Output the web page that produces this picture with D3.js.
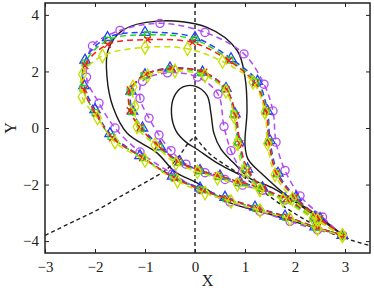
<!DOCTYPE html>
<html>
<head>
<meta charset="utf-8">
<script src="https://cdn.jsdelivr.net/npm/d3@7"></script>
<style>
  body { margin: 0; background: #fff; }
  svg { display: block; }
</style>
</head>
<body>
<svg width="374" height="292"></svg>
<script>
// axis ticks
const xTicks = [-3, -2, -1, 0, 1, 2, 3];
const yTicks = [-4, -2, 0, 2, 4];

// black reference curves (solid)
const outerBlack = [[2.95,-3.78],[2.38,-3.0],[1.84,-2.4],[1.38,-1.69],[1.06,-1.1],[1.0,-0.6],[1.04,0.63],[1.0,1.8],[0.84,2.75],[0.24,3.56],[-0.76,3.78],[-1.45,3.45],[-1.74,2.75],[-1.76,1.8],[-1.64,0.74],[-1.36,-0.18],[-0.76,-0.88],[-0.4,-1.55],[0.04,-1.94],[0.64,-2.6],[1.5,-3.05],[2.2,-3.42],[2.95,-3.78]];
const innerBlack = [[2.95,-3.78],[2.2,-2.85],[1.55,-2.12],[1.1,-1.78],[0.78,-1.25],[0.52,-0.75],[0.38,-0.2],[0.32,0.5],[0.24,1.15],[0.0,1.48],[-0.24,1.45],[-0.42,1.1],[-0.47,0.5],[-0.38,-0.1],[-0.18,-0.5],[0.04,-0.75],[0.44,-1.23],[0.84,-1.6],[1.1,-1.78]];

// black dashed curves
const dashLeft = [[-3.0,-3.8],[-2.4,-3.28],[-1.9,-2.85],[-1.5,-2.43],[-0.9,-1.83],[-0.56,-1.45],[-0.3,-0.95],[-0.12,-0.5],[0,-0.3]];
const dashRight = [[0,-0.3],[0.14,-0.62],[0.34,-0.98],[0.94,-1.69],[1.84,-2.85],[2.7,-3.7],[3.5,-4.16]];
const dashVert = [[0,-4.42],[0,4.42]];

// approximations, outer loop
const magOuter = [[2.95,-3.8],[2.55,-3.15],[2.1,-2.4],[1.8,-1.5],[1.62,-0.5],[1.56,0.6],[1.38,1.55],[0.98,2.62],[0.2,3.38],[-0.7,3.7],[-1.5,3.45],[-2.05,2.9],[-2.17,1.8],[-1.92,0.88],[-1.6,0.0],[-1.1,-0.85],[-0.45,-1.62],[0.1,-2.18],[0.7,-2.62],[1.3,-2.95],[1.9,-3.3],[2.45,-3.6],[2.95,-3.8]];
const blueOuter = [[2.95,-3.8],[2.5,-3.2],[2.02,-2.45],[1.66,-1.6],[1.5,-0.45],[1.45,0.6],[1.25,1.65],[0.72,2.45],[0.0,3.2],[-1.0,3.38],[-1.75,3.2],[-2.2,2.4],[-2.22,1.5],[-2.0,0.65],[-1.7,-0.2],[-1.1,-0.98],[-0.45,-1.7],[0.1,-2.12],[0.6,-2.45],[1.2,-2.8],[1.8,-3.12],[2.4,-3.5],[2.95,-3.8]];
const greenOuter = [[2.95,-3.8],[2.48,-3.22],[2.0,-2.48],[1.64,-1.62],[1.48,-0.48],[1.43,0.6],[1.22,1.62],[0.7,2.4],[0.0,3.12],[-0.95,3.3],[-1.75,3.1],[-2.2,2.3],[-2.24,1.4],[-2.0,0.55],[-1.68,-0.3],[-1.05,-1.05],[-0.42,-1.75],[0.12,-2.18],[0.62,-2.5],[1.22,-2.84],[1.82,-3.16],[2.42,-3.52],[2.95,-3.8]];
const redOuter = [[2.95,-3.8],[2.5,-3.2],[2.0,-2.45],[1.63,-1.6],[1.48,-0.5],[1.42,0.6],[1.2,1.58],[0.68,2.38],[-0.05,3.02],[-0.95,3.12],[-1.75,2.95],[-2.2,2.2],[-2.22,1.35],[-1.98,0.5],[-1.65,-0.35],[-1.05,-1.05],[-0.4,-1.78],[0.15,-2.2],[0.65,-2.5],[1.25,-2.85],[1.85,-3.15],[2.45,-3.52],[2.95,-3.8]];
const yelOuter = [[2.95,-3.8],[2.45,-3.25],[1.95,-2.5],[1.6,-1.65],[1.45,-0.55],[1.4,0.55],[1.16,1.62],[0.55,2.35],[-0.15,2.8],[-1.0,2.85],[-1.85,2.55],[-2.25,1.9],[-2.26,1.1],[-1.95,0.35],[-1.6,-0.5],[-1.0,-1.15],[-0.35,-1.88],[0.2,-2.3],[0.72,-2.6],[1.3,-2.92],[1.9,-3.22],[2.45,-3.56],[2.95,-3.8]];

// approximations, inner loop
const magInner = [[2.95,-3.8],[2.4,-3.2],[1.8,-2.55],[1.35,-2.2],[0.95,-1.55],[0.72,-0.8],[0.58,0.05],[0.46,1.2],[0.05,1.8],[-0.55,1.95],[-1.05,1.65],[-1.1,1.05],[-0.92,0.35],[-0.72,-0.25],[-0.48,-0.8],[-0.18,-1.28],[0.2,-1.58],[0.6,-1.82],[0.95,-2.02],[1.35,-2.2]];
const blueInner = [[2.95,-3.8],[2.4,-3.15],[1.8,-2.5],[1.35,-2.12],[1.05,-1.45],[0.88,-0.5],[0.8,0.5],[0.62,1.4],[0.15,1.98],[-0.5,2.12],[-1.0,1.88],[-1.28,1.3],[-1.25,0.6],[-1.05,0.0],[-0.7,-0.65],[-0.3,-1.2],[0.1,-1.5],[0.5,-1.7],[0.9,-1.92],[1.35,-2.12]];
const greenInner = [[2.95,-3.8],[2.38,-3.18],[1.78,-2.52],[1.33,-2.14],[1.02,-1.45],[0.86,-0.5],[0.78,0.5],[0.6,1.38],[0.12,1.95],[-0.5,2.08],[-1.02,1.85],[-1.3,1.28],[-1.27,0.58],[-1.08,-0.02],[-0.72,-0.68],[-0.32,-1.22],[0.08,-1.52],[0.48,-1.72],[0.88,-1.94],[1.33,-2.14]];
const redInner = [[2.95,-3.8],[2.42,-3.15],[1.82,-2.5],[1.37,-2.12],[1.06,-1.5],[0.9,-0.55],[0.82,0.45],[0.63,1.35],[0.18,1.98],[-0.45,2.1],[-0.98,1.9],[-1.3,1.35],[-1.3,0.62],[-1.1,0.02],[-0.74,-0.62],[-0.34,-1.18],[0.06,-1.48],[0.46,-1.68],[0.88,-1.9],[1.37,-2.12]];
const yelInner = [[2.95,-3.8],[2.36,-3.2],[1.76,-2.55],[1.3,-2.18],[0.98,-1.5],[0.84,-0.55],[0.78,0.4],[0.62,1.3],[0.2,1.85],[-0.4,2.02],[-0.95,1.85],[-1.24,1.45],[-1.2,0.75],[-1.16,0.04],[-0.8,-0.6],[-0.38,-1.25],[0.05,-1.55],[0.45,-1.78],[0.85,-2.0],[1.3,-2.18]];

var svg = d3.select("svg"),
    margin = {top: 3, right: 4, bottom: 39, left: 45},
    width = 374 - margin.left - margin.right,
    height = 292 - margin.top - margin.bottom;

var xScale = d3.scaleLinear().domain([-3, 3.5]).range([0, width]),
    yScale = d3.scaleLinear().domain([-4.42, 4.42]).range([height, 0]);

var fmt = d => d < 0 ? "\u2212" + Math.abs(d) : "" + d;

var g = svg.append("g")
    .attr("transform", "translate(" + margin.left + "," + margin.top + ")");

svg.append("defs").append("clipPath").attr("id", "clip")
    .append("rect").attr("x", 0).attr("y", 0).attr("width", width).attr("height", height);

var plot = g.append("g").attr("clip-path", "url(#clip)");

var line = d3.line()
    .x(d => xScale(d[0]))
    .y(d => yScale(d[1]))
    .curve(d3.curveCatmullRom.alpha(0.5));

var straight = d3.line()
    .x(d => xScale(d[0]))
    .y(d => yScale(d[1]));

// black dashed
plot.append("path").datum(dashVert).attr("d", straight)
    .style("fill", "none").style("stroke", "#222").style("stroke-width", 1.4)
    .style("stroke-dasharray", "4,3");
[dashLeft, dashRight].forEach(function (pts) {
    plot.append("path").datum(pts).attr("d", line)
        .style("fill", "none").style("stroke", "#222").style("stroke-width", 1.4)
        .style("stroke-dasharray", "4,3");
});

// black solid
[outerBlack, innerBlack].forEach(function (pts) {
    plot.append("path").datum(pts).attr("d", line)
        .style("fill", "none").style("stroke", "#1a1a1a").style("stroke-width", 1.4);
});

var series = [
    {name: "mag", color: "#b04cf5", shape: d3.symbolCircle, size: 52, loops: [magOuter, magInner]},
    {name: "blue", color: "#2a3cff", shape: d3.symbolTriangle, size: 46, loops: [blueOuter, blueInner]},
    {name: "green", color: "#22d822", shape: d3.symbolSquare, size: 34, loops: [greenOuter, greenInner]},
    {name: "red", color: "#ff1a1a", shape: d3.symbolTimes || d3.symbolCross, size: 30, loops: [redOuter, redInner]},
    {name: "yel", color: "#c6e000", shape: d3.symbolDiamond, size: 52, loops: [yelOuter, yelInner]}
];

series.forEach(function (s) {
    s.loops.forEach(function (pts) {
        plot.append("path").datum(pts).attr("d", line)
            .style("fill", "none").style("stroke", s.color).style("stroke-width", 1.5)
            .style("stroke-dasharray", "6,4");
        plot.append("g").selectAll("path")
            .data(pts)
            .enter()
            .append("path")
            .attr("transform", d => "translate(" + xScale(d[0]) + "," + yScale(d[1]) + ")")
            .attr("d", d3.symbol().type(s.shape).size(s.size))
            .style("fill", "none")
            .style("stroke", s.color)
            .style("stroke-width", 1.3);
    });
});

// axes, ticks inward on all sides
g.append("g")
    .attr("transform", "translate(0," + height + ")")
    .call(d3.axisBottom(xScale).tickValues(xTicks).tickFormat(fmt).tickSizeInner(-4).tickSizeOuter(0).tickPadding(8))
    .call(a => a.select(".domain").remove());
g.append("g")
    .call(d3.axisTop(xScale).tickValues(xTicks).tickFormat("").tickSizeInner(-4).tickSizeOuter(0))
    .call(a => a.select(".domain").remove());
g.append("g")
    .call(d3.axisLeft(yScale).tickValues(yTicks).tickFormat(fmt).tickSizeInner(-4).tickSizeOuter(0).tickPadding(6))
    .call(a => a.select(".domain").remove());
g.append("g")
    .attr("transform", "translate(" + width + ",0)")
    .call(d3.axisRight(yScale).tickValues(yTicks).tickFormat("").tickSizeInner(-4).tickSizeOuter(0))
    .call(a => a.select(".domain").remove());

g.selectAll(".tick line").style("stroke", "#222");
g.selectAll(".tick text")
    .style("font-family", "'Liberation Serif', 'DejaVu Serif', serif")
    .style("font-size", "15px")
    .style("fill", "#222");

g.append("rect")
    .attr("x", 0).attr("y", 0).attr("width", width).attr("height", height)
    .style("fill", "none").style("stroke", "#222").style("stroke-width", 1.5);

// labels
svg.append("text")
    .attr("x", margin.left + width / 2)
    .attr("y", 286)
    .attr("text-anchor", "middle")
    .style("font-family", "'Liberation Serif', serif")
    .style("font-size", "16px")
    .style("fill", "#222")
    .text("X");

svg.append("text")
    .attr("text-anchor", "middle")
    .attr("transform", "translate(16," + (margin.top + yScale(0)) + ")rotate(-90)")
    .style("font-family", "'Liberation Serif', serif")
    .style("font-size", "16px")
    .style("fill", "#222")
    .text("Y");
</script>
</body>
</html>
